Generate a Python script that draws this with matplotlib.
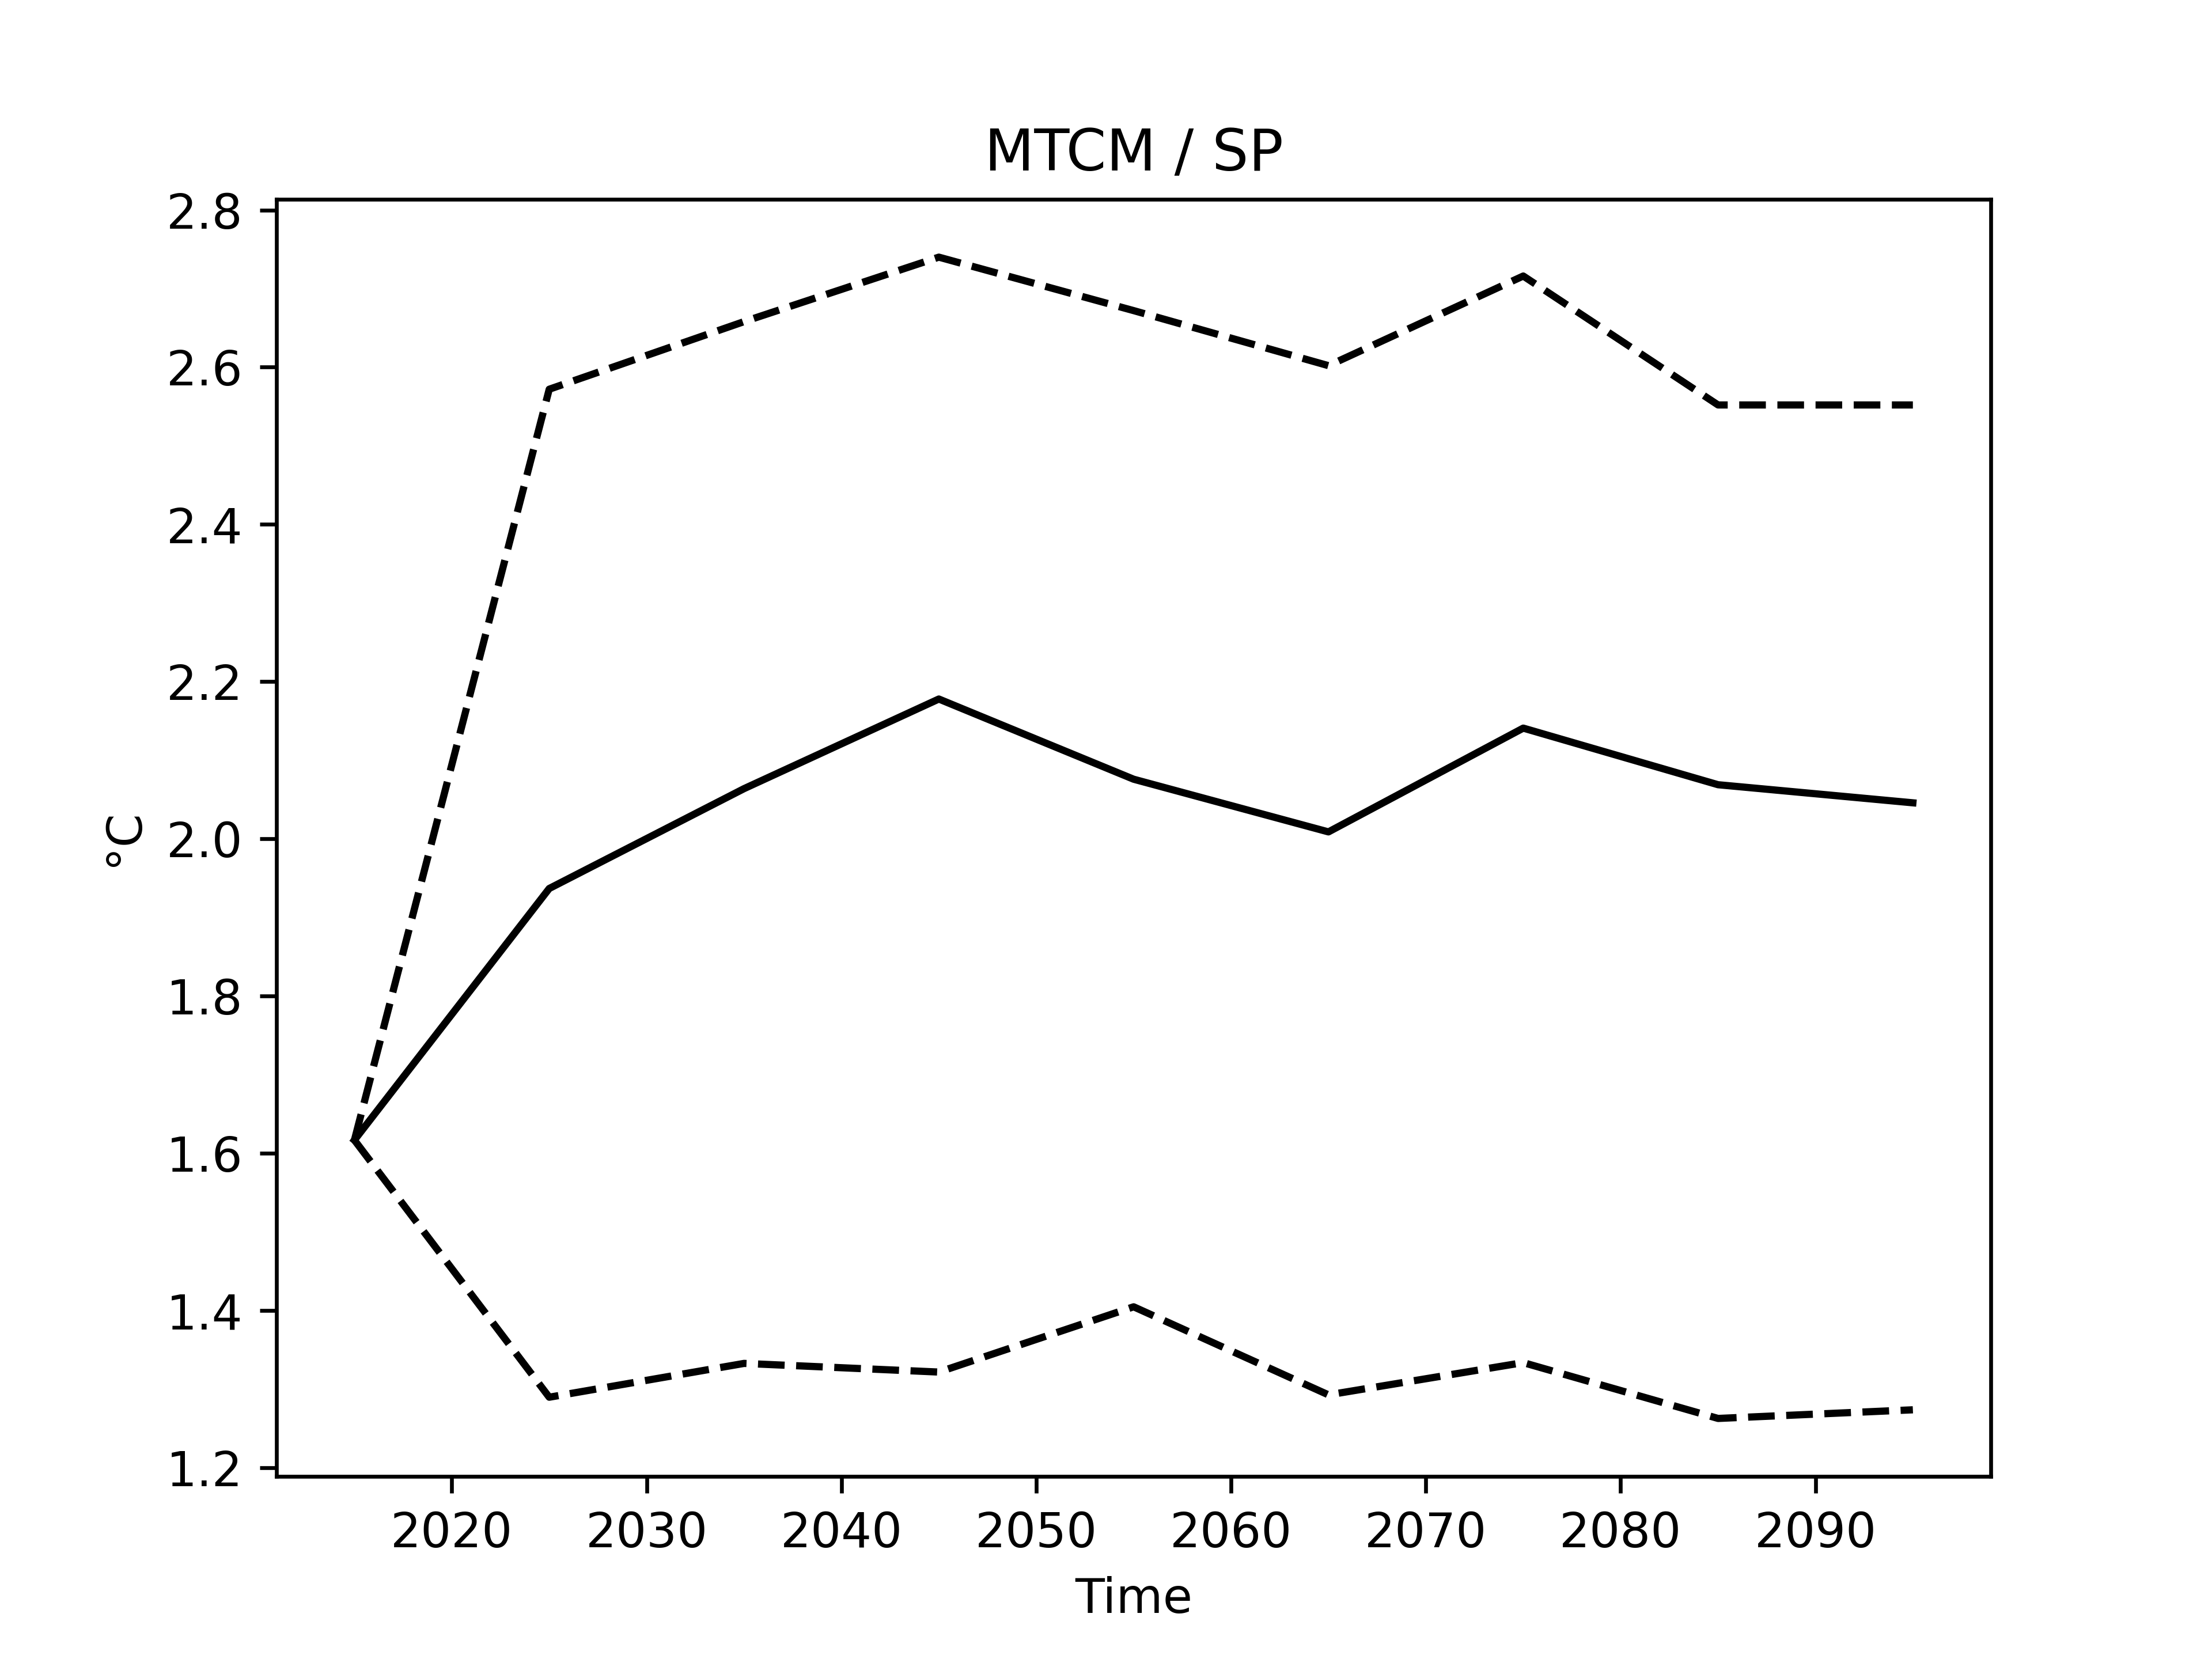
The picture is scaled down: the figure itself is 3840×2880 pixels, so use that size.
import numpy as np
import matplotlib
matplotlib.use("Agg")
import matplotlib.pyplot as plt

# =========================
# DATA
# =========================

years = [2015, 2025, 2035, 2045, 2055, 2065, 2075, 2085, 2095]

mean_vals = [1.617, 1.937, 2.064, 2.178, 2.076, 2.009, 2.141, 2.069, 2.046]
upper_vals = [1.617, 2.572, 2.658, 2.740, 2.672, 2.602, 2.716, 2.552, 2.552]
lower_vals = [1.617, 1.290, 1.333, 1.322, 1.405, 1.293, 1.334, 1.263, 1.274]

# =========================
# PLOT
# =========================

fig, ax = plt.subplots(figsize=(6.4, 4.8), dpi=600)

ax.plot(years, mean_vals, color="black", linestyle="-")
ax.plot(years, upper_vals, color="black", linestyle="--")
ax.plot(years, lower_vals, color="black", linestyle="--")

ax.set_xticks([2020, 2030, 2040, 2050, 2060, 2070, 2080, 2090])

ax.set_xlabel("Time")
ax.set_ylabel("°C")
ax.set_title("MTCM / SP")

fig.savefig("out.png", dpi=600)
